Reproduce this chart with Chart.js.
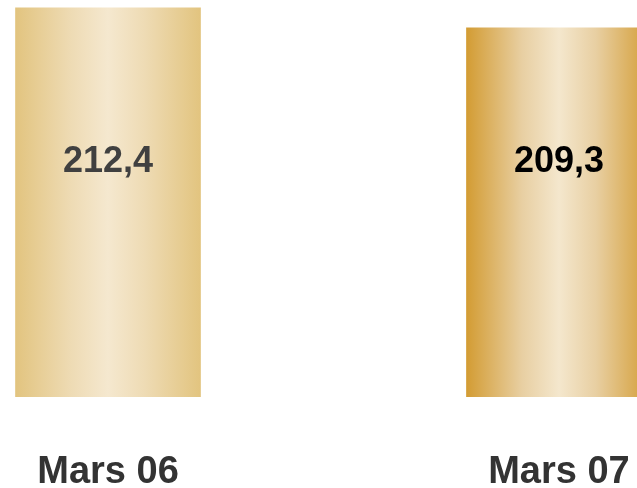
<!DOCTYPE html>
<html>
<head>
<meta charset="utf-8">
<title>Mars 06 / Mars 07</title>
<script src="https://cdn.jsdelivr.net/npm/chart.js@4.4.1/dist/chart.umd.min.js"></script>
<style>
  html, body { margin: 0; padding: 0; background: #fff; }
  canvas { display: block; }
</style>
</head>
<body>
<canvas id="chart" width="637" height="488"></canvas>
<script>
// Categories and values
const categories = ['Mars 06', 'Mars 07'];
const values = [212.4, 209.3];
const valueLabels = ['212,4', '209,3'];

// Gold gradient per bar: [edge, mid, centre]
const barShades = [
    ['#E2C47F', '#EEDBB4', '#F5E8CF'],
    ['#D39C33', '#E8CFA2', '#F4E7CD']
];
const labelColors = ['#404040', '#000000'];

const BAR_WIDTH = 185;

function barGradient(context) {
    const chart = context.chart;
    const area = chart.chartArea;
    if (!area) return barShades[context.dataIndex][2];
    const x = chart.scales.x.getPixelForValue(context.dataIndex);
    const left = x - BAR_WIDTH / 2;
    const g = chart.ctx.createLinearGradient(left, 0, left + BAR_WIDTH, 0);
    const s = barShades[context.dataIndex];
    g.addColorStop(0, s[0]);
    g.addColorStop(0.3, s[1]);
    g.addColorStop(0.5, s[2]);
    g.addColorStop(0.7, s[1]);
    g.addColorStop(1, s[0]);
    return g;
}

// Writes the value inside each bar
const valueText = {
    id: 'valueText',
    afterDatasetsDraw(chart) {
        const ctx = chart.ctx;
        const area = chart.chartArea;
        ctx.save();
        ctx.font = 'bold 36px "Liberation Sans", Arial, sans-serif';
        ctx.textAlign = 'center';
        ctx.textBaseline = 'middle';
        values.forEach((v, i) => {
            const x = chart.scales.x.getPixelForValue(i);
            ctx.fillStyle = labelColors[i];
            ctx.fillText(valueLabels[i], x, area.top + area.height * 0.407);
        });
        ctx.restore();
    }
};

new Chart(document.getElementById('chart'), {
    type: 'bar',
    data: {
        datasets: [{
            data: values.map((v, i) => ({ x: i, y: v })),
            backgroundColor: barGradient,
            borderWidth: 0,
            barThickness: BAR_WIDTH
        }]
    },
    options: {
        responsive: false,
        animation: false,
        layout: { padding: 0 },
        plugins: {
            legend: { display: false },
            tooltip: { enabled: false }
        },
        scales: {
            x: {
                type: 'linear',
                offset: false,
                min: -0.2395,
                max: 1.173,
                grid: { display: false, drawTicks: false, offset: false },
                border: { display: false },
                afterBuildTicks(axis) {
                    axis.ticks = categories.map((c, i) => ({ value: i }));
                },
                afterFit(axis) {
                    // keep the plot full width and leave room for the labels below
                    axis.height = 91;
                    axis.paddingLeft = 0;
                    axis.paddingRight = 0;
                },
                ticks: {
                    padding: 53,
                    maxRotation: 0,
                    autoSkip: false,
                    color: '#333333',
                    font: { family: '"Liberation Sans", Arial, sans-serif', size: 38, weight: 'bold' },
                    callback: (v) => categories[v]
                }
            },
            y: {
                display: false,
                min: 152,
                max: 213.6
            }
        }
    },
    plugins: [valueText]
});
</script>
</body>
</html>
